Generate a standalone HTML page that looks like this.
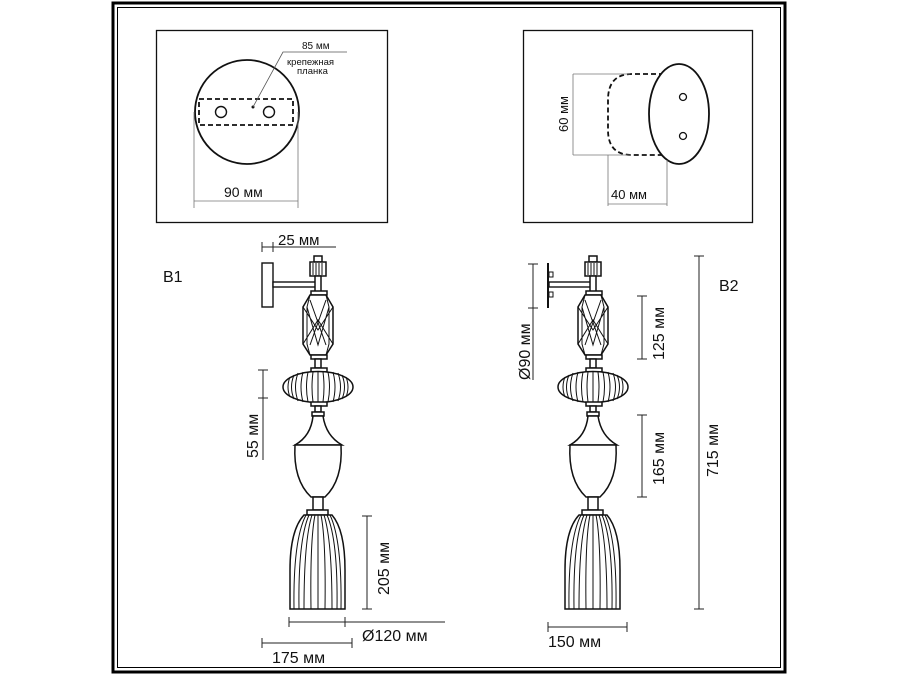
<!DOCTYPE html>
<html><head><meta charset="utf-8"><style>
html,body{margin:0;padding:0;background:#fff;}
svg{display:block;}
text{font-family:"Liberation Sans",sans-serif;fill:#111;}
</style></head><body>
<svg width="900" height="675" viewBox="0 0 900 675" xmlns="http://www.w3.org/2000/svg">
<defs>
<g id="lamp" stroke="#111" fill="#fff" stroke-width="1.5">
  <rect x="314" y="256" width="8" height="6"/>
  <rect x="310" y="262" width="16" height="14"/>
  <g stroke-width="1"><line x1="313" y1="263" x2="313" y2="275"/><line x1="316" y1="263" x2="316" y2="275"/><line x1="319" y1="263" x2="319" y2="275"/><line x1="322" y1="263" x2="322" y2="275"/></g>
  <rect x="315" y="276" width="6" height="16"/>
  <rect x="311" y="291" width="16" height="4"/>
  <path d="M310,295 L326,295 L333,307 L333,344 L326,355 L310,355 L303,344 L303,307 Z"/>
  <g stroke-width="1" fill="none">
    <path d="M310,295 L307,307 L307,344 L310,355 M326,295 L329,307 L329,344 L326,355"/>
    <path d="M303,307 L318,330 L333,307 M307,307 L318,345 L329,307 M310,300 L326,345 M326,300 L310,345 M303,344 L318,320 L333,344"/>
  </g>
  <rect x="311" y="355" width="16" height="4"/>
  <rect x="315" y="359" width="6" height="9"/>
  <rect x="311" y="368" width="16" height="4"/>
  <ellipse cx="318" cy="387" rx="35" ry="15.5"/>
  <g stroke-width="1" fill="none">
    <path d="M290,377 Q286,387 290,397 M294,375 Q289,387 294,399 M298,373 Q293,387 298,401 M303,372 Q299,387 303,402 M308,372 Q305,387 308,402 M313,372 Q311,387 313,402 M318,372 L318,402 M323,372 Q325,387 323,402 M328,372 Q331,387 328,402 M333,372 Q337,387 333,402 M338,373 Q343,387 338,401 M342,375 Q347,387 342,399 M346,377 Q350,387 346,397"/>
  </g>
  <rect x="311" y="402" width="16" height="4"/>
  <rect x="315" y="406" width="6" height="6"/>
  <rect x="312" y="412" width="12" height="4"/>
  <path d="M313,416 L323,416 Q326,436 342,445 L295,445 Q311,436 313,416 Z"/>
  <path d="M295,445 L341,445 Q343,480 325,497 L311,497 Q293,480 295,445 Z"/>
  <rect x="313" y="497" width="10" height="13"/>
  <rect x="307" y="510" width="21" height="5"/>
  <path d="M304,515 L332,515 Q345,530 345,570 L345,609 L290,609 L290,570 Q290,530 304,515 Z"/>
  <g stroke-width="1" fill="none">
    <path d="M306,515 Q293,540 294,609 M309,515 Q298,540 299,609 M312,515 Q304,540 304,609 M315,515 Q310,540 311,609 M318,515 L318,609 M321,515 Q326,540 325,609 M324,515 Q332,540 332,609 M327,515 Q338,540 337,609 M330,515 Q342,540 341,609"/>
  </g>
</g>
</defs>

<rect x="113" y="3" width="672" height="669" fill="none" stroke="#000" stroke-width="3"/>
<rect x="117.5" y="7.5" width="663" height="660" fill="none" stroke="#000" stroke-width="1"/>

<rect x="156.5" y="30.5" width="231" height="192" fill="#fff" stroke="#111" stroke-width="1.3"/>
<circle cx="247" cy="112" r="52" fill="none" stroke="#111" stroke-width="1.8"/>
<rect x="199" y="99" width="94" height="26" fill="none" stroke="#111" stroke-width="1.8" stroke-dasharray="5,3"/>
<circle cx="221" cy="112" r="5.5" fill="none" stroke="#111" stroke-width="1.4"/>
<circle cx="269" cy="112" r="5.5" fill="none" stroke="#111" stroke-width="1.4"/>
<circle cx="253" cy="107" r="1.5" fill="#111"/>
<polyline points="253,107 283,52 347,52" fill="none" stroke="#555" stroke-width="0.8"/>
<text x="302" y="49" font-size="10">85 мм</text>
<text x="287" y="65" font-size="9.5">крепежная</text>
<text x="297" y="74" font-size="9.5">планка</text>
<g stroke="#777" stroke-width="0.8"><line x1="194" y1="112" x2="194" y2="208"/><line x1="298" y1="112" x2="298" y2="208"/><line x1="194" y1="201" x2="298" y2="201"/></g>
<text x="224" y="197" font-size="14">90 мм</text>

<rect x="523.5" y="30.5" width="229" height="192" fill="#fff" stroke="#111" stroke-width="1.3"/>
<path d="M664,74 L632,74 Q608,74 608,100 L608,130 Q608,155 632,155 L667,155" fill="none" stroke="#111" stroke-width="1.8" stroke-dasharray="5,3"/>
<ellipse cx="679" cy="114" rx="30" ry="50" fill="#fff" stroke="#111" stroke-width="1.8"/>
<circle cx="683" cy="97" r="3.5" fill="none" stroke="#111" stroke-width="1.3"/>
<circle cx="683" cy="136" r="3.5" fill="none" stroke="#111" stroke-width="1.3"/>
<g stroke="#777" stroke-width="0.8"><line x1="573" y1="74" x2="630" y2="74"/><line x1="573" y1="155" x2="630" y2="155"/><line x1="573" y1="74" x2="573" y2="155"/>
<line x1="608" y1="155" x2="608" y2="206"/><line x1="667" y1="160" x2="667" y2="206"/><line x1="608" y1="204" x2="667" y2="204"/></g>
<text font-size="13" transform="translate(568,132) rotate(-90)">60 мм</text>
<text x="611" y="199" font-size="13">40 мм</text>

<text x="163" y="282" font-size="16">B1</text>
<rect x="262" y="263" width="11" height="44" fill="#fff" stroke="#111" stroke-width="1.4"/>
<rect x="273" y="282" width="43" height="5" fill="#fff" stroke="#111" stroke-width="1.4"/>
<use href="#lamp"/>
<g stroke="#222" stroke-width="1">
<line x1="262" y1="247" x2="336" y2="247"/><line x1="262" y1="242" x2="262" y2="252"/><line x1="273" y1="242" x2="273" y2="252"/>
<line x1="263" y1="370" x2="263" y2="460"/><line x1="258" y1="370" x2="268" y2="370"/><line x1="258" y1="398" x2="268" y2="398"/>
<line x1="367" y1="516" x2="367" y2="609"/><line x1="362" y1="516" x2="372" y2="516"/><line x1="362" y1="609" x2="372" y2="609"/>
<line x1="289" y1="622" x2="445" y2="622"/><line x1="289" y1="617" x2="289" y2="627"/><line x1="345" y1="617" x2="345" y2="627"/>
<line x1="262" y1="643" x2="352" y2="643"/><line x1="262" y1="638" x2="262" y2="648"/><line x1="352" y1="638" x2="352" y2="648"/>
</g>
<text x="278" y="245" font-size="15">25 мм</text>
<text font-size="16" transform="translate(258,458) rotate(-90)">55 мм</text>
<text font-size="16" transform="translate(389,595) rotate(-90)">205 мм</text>
<text x="362" y="641" font-size="16">Ø120 мм</text>
<text x="272" y="663" font-size="16">175 мм</text>

<text x="719" y="291" font-size="16">B2</text>
<line x1="548" y1="263" x2="548" y2="308" stroke="#111" stroke-width="2"/>
<rect x="549" y="272" width="4" height="5" fill="#fff" stroke="#111" stroke-width="1"/>
<rect x="549" y="292" width="4" height="5" fill="#fff" stroke="#111" stroke-width="1"/>
<rect x="549" y="282" width="42" height="5" fill="#fff" stroke="#111" stroke-width="1.4"/>
<use href="#lamp" transform="translate(275,0)"/>
<g stroke="#222" stroke-width="1">
<line x1="533" y1="264" x2="533" y2="380"/><line x1="528" y1="264" x2="538" y2="264"/><line x1="528" y1="308" x2="538" y2="308"/>
<line x1="642" y1="296" x2="642" y2="359"/><line x1="637" y1="296" x2="647" y2="296"/><line x1="637" y1="359" x2="647" y2="359"/>
<line x1="642" y1="415" x2="642" y2="497"/><line x1="637" y1="415" x2="647" y2="415"/><line x1="637" y1="497" x2="647" y2="497"/>
<line x1="699" y1="256" x2="699" y2="609"/><line x1="694" y1="256" x2="704" y2="256"/><line x1="694" y1="609" x2="704" y2="609"/>
<line x1="548" y1="627" x2="627" y2="627"/><line x1="548" y1="622" x2="548" y2="632"/><line x1="627" y1="622" x2="627" y2="632"/>
</g>
<text font-size="16" transform="translate(530,380) rotate(-90)">Ø90 мм</text>
<text font-size="16" transform="translate(664,360) rotate(-90)">125 мм</text>
<text font-size="16" transform="translate(664,485) rotate(-90)">165 мм</text>
<text font-size="16" transform="translate(718,477) rotate(-90)">715 мм</text>
<text x="548" y="647" font-size="16">150 мм</text>
</svg>
</body></html>
